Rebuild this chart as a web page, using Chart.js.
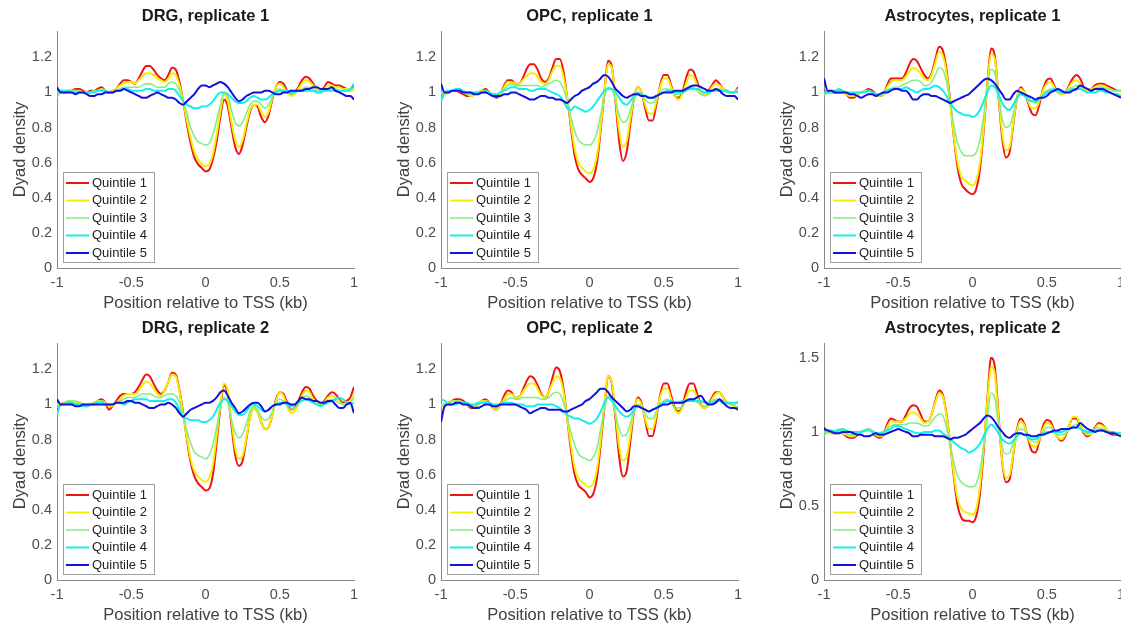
<!DOCTYPE html>
<html>
<head>
<meta charset="utf-8">
<script src="https://cdn.jsdelivr.net/npm/chart.js@4.4.1/dist/chart.umd.min.js"></script>
<style>
  html, body { margin: 0; padding: 0; background: #fff; overflow: hidden; width: 1121px; height: 628px; }
  .panel { position: absolute; width: 375px; height: 316px; }
</style>
</head>
<body>
<div class="panel" style="left:0px;top:0px"><canvas id="c0" width="375" height="316"></canvas></div>
<div class="panel" style="left:384px;top:0px"><canvas id="c1" width="375" height="316"></canvas></div>
<div class="panel" style="left:767px;top:0px"><canvas id="c2" width="375" height="316"></canvas></div>
<div class="panel" style="left:0px;top:312px"><canvas id="c3" width="375" height="316"></canvas></div>
<div class="panel" style="left:384px;top:312px"><canvas id="c4" width="375" height="316"></canvas></div>
<div class="panel" style="left:767px;top:312px"><canvas id="c5" width="375" height="316"></canvas></div>
<script>
// position relative to TSS (kb)
const POSITIONS = [-1,-0.975,-0.95,-0.925,-0.9,-0.875,-0.85,-0.825,-0.8,-0.775,
  -0.75,-0.725,-0.7,-0.675,-0.65,-0.625,-0.6,-0.575,-0.55,-0.525,
  -0.5,-0.475,-0.45,-0.425,-0.4,-0.375,-0.35,-0.325,-0.3,-0.275,
  -0.25,-0.225,-0.2,-0.175,-0.15,-0.125,-0.1,-0.075,-0.05,-0.025,
  0,0.025,0.05,0.075,0.1,0.125,0.15,0.175,0.2,0.225,
  0.25,0.275,0.3,0.325,0.35,0.375,0.4,0.425,0.45,0.475,
  0.5,0.525,0.55,0.575,0.6,0.625,0.65,0.675,0.7,0.725,
  0.75,0.775,0.8,0.825,0.85,0.875,0.9,0.925,0.95,0.975,1];

const QUINTILES = ['Quintile 1','Quintile 2','Quintile 3','Quintile 4','Quintile 5'];
const PANEL_TITLES = ['DRG, replicate 1','OPC, replicate 1','Astrocytes, replicate 1',
  'DRG, replicate 2','OPC, replicate 2','Astrocytes, replicate 2'];
const X_TICKS = [-1,-0.5,0,0.5,1];
const X_TICK_LABELS = ['-1','-0.5','0','0.5','1'];
const Y_TICKS = [0,0.2,0.4,0.6,0.8,1,1.2];
const Y_TICK_LABELS = ['0','0.2','0.4','0.6','0.8','1','1.2'];
const Y_TICKS_B = [0,0.5,1,1.5];
const Y_TICK_LABELS_B = ['0','0.5','1','1.5'];

// DRG, replicate 1
const DRG1_Q1 = [1.00,1.01,1.00,1.01,1.01,1.02,1.02,1.01,1.00,1.01, 1.01,1.02,1.03,1.01,1.00,1.01,1.02,1.05,1.07,1.07, 1.06,1.05,1.08,1.12,1.15,1.15,1.13,1.10,1.08,1.07, 1.10,1.14,1.13,1.06,0.95,0.82,0.71,0.63,0.59,0.57, 0.55,0.56,0.62,0.72,0.86,0.96,0.92,0.80,0.69,0.65, 0.70,0.80,0.89,0.93,0.92,0.86,0.83,0.87,0.96,1.03, 1.06,1.05,1.01,0.99,1.00,1.03,1.07,1.09,1.08,1.05, 1.02,1.01,1.03,1.06,1.05,1.04,1.04,1.03,1.02,1.01, 1.04];
const DRG1_Q2 = [1.00,1.00,1.00,1.01,1.01,1.01,1.01,1.00,1.00,1.00, 1.01,1.01,1.02,1.01,1.00,1.01,1.02,1.04,1.05,1.06, 1.06,1.05,1.07,1.09,1.11,1.11,1.10,1.08,1.07,1.06, 1.08,1.11,1.10,1.04,0.95,0.84,0.74,0.66,0.62,0.59, 0.58,0.59,0.65,0.76,0.89,0.99,0.95,0.83,0.73,0.69, 0.73,0.82,0.90,0.93,0.93,0.89,0.86,0.89,0.97,1.03, 1.05,1.03,1.00,0.98,0.99,1.02,1.05,1.07,1.06,1.04, 1.02,1.01,1.02,1.04,1.04,1.03,1.03,1.02,1.02,1.01, 1.02];
const DRG1_Q3 = [0.97,1.00,1.00,1.00,1.01,1.01,1.01,1.00,1.00,1.00, 1.01,1.01,1.02,1.01,1.00,1.00,1.01,1.02,1.03,1.03, 1.03,1.03,1.03,1.04,1.05,1.05,1.04,1.03,1.03,1.03, 1.05,1.06,1.05,1.01,0.95,0.88,0.80,0.75,0.72,0.71, 0.70,0.71,0.76,0.84,0.93,1.00,0.98,0.90,0.83,0.81, 0.83,0.88,0.93,0.95,0.95,0.93,0.91,0.93,0.97,1.01, 1.02,1.01,1.00,0.99,1.00,1.01,1.02,1.03,1.03,1.02, 1.01,1.01,1.01,1.02,1.02,1.02,1.01,1.01,1.01,1.01, 1.03];
const DRG1_Q4 = [1.00,1.01,1.01,1.01,1.00,1.00,1.00,1.00,1.00,1.00, 1.00,1.01,1.01,1.01,1.00,1.00,1.01,1.01,1.02,1.02, 1.01,1.01,1.01,1.01,1.02,1.02,1.01,1.01,1.01,1.01, 1.02,1.02,1.01,0.98,0.95,0.93,0.92,0.91,0.91,0.92, 0.92,0.93,0.95,0.98,1.00,1.00,0.99,0.97,0.95,0.94, 0.94,0.95,0.97,0.98,0.97,0.96,0.96,0.97,0.99,1.00, 1.01,1.01,1.01,1.00,1.00,1.01,1.01,1.01,1.01,1.01, 1.00,1.00,1.01,1.01,1.01,1.01,1.01,1.01,1.01,1.02, 1.05];
const DRG1_Q5 = [1.03,1.00,1.00,1.00,1.00,0.99,1.00,1.00,0.99,0.98, 0.98,0.99,0.99,1.00,1.00,1.00,1.01,1.01,1.02,1.01, 1.00,0.99,0.98,0.97,0.97,0.98,0.99,1.00,0.99,0.98, 0.97,0.97,0.96,0.94,0.93,0.95,0.97,0.99,1.02,1.04, 1.04,1.03,1.04,1.05,1.06,1.05,1.03,1.00,0.97,0.95, 0.96,0.98,0.99,1.00,1.00,1.00,1.01,1.01,1.00,0.99, 0.99,1.00,1.00,1.01,1.01,1.01,1.01,1.02,1.02,1.03, 1.03,1.02,1.02,1.02,1.03,1.01,1.00,0.99,0.98,0.98, 0.96];

// OPC, replicate 1
const OPC1_Q1 = [1.00,0.99,1.00,1.01,1.01,1.00,0.99,0.98,0.98,0.99, 1.00,1.01,1.02,1.00,0.98,0.97,0.99,1.04,1.07,1.07, 1.05,1.05,1.08,1.13,1.16,1.16,1.13,1.08,1.06,1.08, 1.14,1.19,1.19,1.12,0.97,0.80,0.64,0.56,0.53,0.51, 0.49,0.51,0.60,0.78,1.00,1.18,1.15,0.95,0.72,0.61, 0.66,0.82,0.97,1.03,1.00,0.91,0.84,0.84,0.93,1.04, 1.10,1.10,1.04,0.98,0.97,1.00,1.08,1.13,1.12,1.06, 1.00,0.99,1.01,1.04,1.07,1.05,1.02,1.01,1.00,1.00, 1.03];
const OPC1_Q2 = [1.00,0.99,1.00,1.01,1.01,1.01,1.00,0.99,0.98,0.99, 1.00,1.01,1.01,1.00,0.98,0.98,0.99,1.03,1.06,1.06, 1.05,1.05,1.07,1.09,1.11,1.11,1.09,1.06,1.05,1.07, 1.12,1.15,1.15,1.09,0.97,0.82,0.68,0.60,0.57,0.55, 0.54,0.56,0.64,0.80,1.00,1.16,1.14,0.97,0.78,0.69, 0.72,0.85,0.97,1.03,1.00,0.93,0.88,0.88,0.95,1.03, 1.08,1.08,1.03,0.98,0.96,0.99,1.05,1.10,1.09,1.04, 1.00,0.99,1.00,1.03,1.05,1.04,1.02,1.01,1.00,1.00, 1.02];
const OPC1_Q3 = [1.00,1.00,1.00,1.01,1.01,1.01,1.00,0.99,0.99,1.00, 1.00,1.00,1.01,1.00,0.99,0.99,1.00,1.02,1.04,1.05, 1.04,1.04,1.04,1.04,1.04,1.04,1.04,1.03,1.04,1.05, 1.06,1.07,1.06,1.02,0.95,0.86,0.78,0.73,0.71,0.70, 0.70,0.72,0.77,0.87,0.97,1.03,1.02,0.95,0.87,0.83, 0.84,0.90,0.96,0.99,0.98,0.96,0.94,0.94,0.97,1.00, 1.02,1.02,1.01,0.99,0.99,1.00,1.02,1.04,1.03,1.01, 0.99,0.98,0.99,1.01,1.02,1.02,1.01,1.00,1.00,1.00, 1.00];
const OPC1_Q4 = [0.95,1.00,1.01,1.01,1.02,1.02,1.01,1.00,1.00,1.00, 1.00,1.00,1.01,1.00,0.99,0.99,1.00,1.01,1.02,1.03, 1.03,1.02,1.02,1.02,1.01,1.01,1.02,1.02,1.02,1.01, 1.00,0.99,0.98,0.95,0.91,0.90,0.92,0.91,0.90,0.89, 0.90,0.92,0.95,0.98,1.01,1.02,1.02,1.00,0.97,0.94, 0.93,0.95,0.98,1.00,0.99,0.98,0.97,0.97,0.98,0.99, 1.00,1.01,1.01,1.00,1.00,1.00,1.01,1.02,1.02,1.02, 1.01,1.00,1.00,1.01,1.01,1.01,1.01,1.01,1.00,1.00, 1.01];
const OPC1_Q5 = [1.05,1.00,1.00,1.01,1.01,1.01,1.00,1.00,1.00,0.99, 0.99,1.00,1.00,0.99,0.98,0.98,0.98,0.99,0.99,1.00, 1.00,0.99,0.98,0.97,0.96,0.96,0.97,0.98,0.98,0.97, 0.97,0.96,0.96,0.95,0.94,0.96,0.98,0.99,1.01,1.02, 1.03,1.05,1.06,1.08,1.10,1.09,1.06,1.02,1.00,0.98, 0.97,0.98,0.99,0.99,0.98,0.98,0.97,0.97,0.98,0.99, 1.00,1.00,1.00,1.01,1.01,1.01,1.02,1.03,1.04,1.04, 1.03,1.02,1.01,1.01,1.02,1.01,0.99,0.98,0.98,0.98, 0.96];

// Astrocytes, replicate 1
const AST1_Q1 = [1.01,1.00,1.00,1.00,1.00,1.00,0.99,0.97,0.97,0.99, 1.00,1.01,1.02,1.01,0.99,0.98,0.99,1.04,1.08,1.08, 1.08,1.08,1.11,1.16,1.19,1.18,1.14,1.10,1.08,1.11, 1.19,1.26,1.24,1.13,0.95,0.74,0.57,0.48,0.45,0.43, 0.42,0.45,0.56,0.78,1.05,1.25,1.21,0.98,0.74,0.63, 0.66,0.82,0.97,1.03,1.00,0.94,0.88,0.87,0.93,1.02, 1.07,1.08,1.04,1.00,0.99,1.00,1.04,1.08,1.10,1.08, 1.03,1.01,1.02,1.04,1.05,1.05,1.04,1.03,1.02,1.01, 1.01];
const AST1_Q2 = [1.00,1.00,1.00,1.01,1.01,1.00,0.99,0.98,0.98,0.99, 1.00,1.01,1.01,1.00,0.99,0.98,0.99,1.03,1.06,1.07, 1.07,1.07,1.09,1.12,1.14,1.13,1.11,1.08,1.07,1.10, 1.17,1.23,1.21,1.11,0.94,0.75,0.60,0.52,0.50,0.48, 0.47,0.50,0.60,0.80,1.05,1.22,1.19,0.99,0.77,0.67, 0.69,0.83,0.97,1.02,1.00,0.95,0.91,0.91,0.95,1.01, 1.05,1.06,1.03,1.00,0.99,1.00,1.03,1.06,1.07,1.05, 1.02,1.01,1.02,1.03,1.04,1.04,1.03,1.02,1.01,1.01, 1.00];
const AST1_Q3 = [0.98,1.00,1.00,1.01,1.01,1.01,1.00,0.99,0.99,1.00, 1.00,1.01,1.01,1.00,0.99,0.98,0.99,1.01,1.02,1.03, 1.03,1.04,1.05,1.06,1.07,1.07,1.06,1.04,1.04,1.06, 1.10,1.14,1.13,1.06,0.94,0.81,0.71,0.66,0.64,0.64, 0.64,0.66,0.73,0.87,1.03,1.13,1.11,0.98,0.85,0.80, 0.81,0.88,0.96,1.00,0.99,0.97,0.95,0.94,0.96,0.99, 1.01,1.02,1.01,1.00,1.00,1.00,1.02,1.03,1.04,1.03, 1.01,1.00,1.01,1.02,1.03,1.03,1.02,1.02,1.01,1.01, 1.01];
const AST1_Q4 = [1.00,1.00,1.01,1.01,1.02,1.01,1.00,1.00,1.00,1.00, 1.00,1.00,1.01,1.00,0.99,0.99,1.00,1.01,1.02,1.02, 1.02,1.02,1.03,1.02,1.01,1.00,1.01,1.02,1.02,1.03, 1.04,1.03,1.01,0.98,0.94,0.91,0.89,0.88,0.87,0.87, 0.86,0.87,0.90,0.95,1.00,1.04,1.03,0.99,0.94,0.91, 0.90,0.93,0.97,0.99,0.98,0.96,0.95,0.95,0.96,0.98, 1.00,1.01,1.02,1.01,1.00,1.00,1.01,1.02,1.02,1.02, 1.01,1.00,1.00,1.00,1.01,1.01,1.00,1.00,0.99,0.99, 0.98];
const AST1_Q5 = [1.08,1.01,1.01,1.00,1.00,1.00,1.00,0.99,0.99,0.98, 0.97,0.98,0.99,0.99,0.98,0.99,1.00,1.00,1.01,1.02, 1.02,1.01,1.01,0.99,0.96,0.96,0.98,0.99,0.99,0.98, 0.98,0.97,0.96,0.95,0.94,0.95,0.96,0.97,0.98,0.99, 1.01,1.03,1.05,1.07,1.08,1.07,1.05,1.02,0.99,0.96, 0.96,0.99,1.01,1.00,0.99,0.98,0.97,0.96,0.97,0.97, 0.98,1.00,1.01,1.02,1.01,1.00,1.00,1.01,1.02,1.04, 1.03,1.02,1.01,1.02,1.02,1.02,1.01,1.00,0.99,0.98, 0.97];

// DRG, replicate 2
const DRG2_Q1 = [0.97,1.00,1.01,1.01,1.00,1.01,1.01,1.00,0.99,1.00, 1.01,1.02,1.03,1.01,0.97,0.99,1.02,1.05,1.06,1.06, 1.06,1.07,1.10,1.14,1.17,1.16,1.12,1.08,1.06,1.08, 1.13,1.18,1.17,1.08,0.95,0.80,0.67,0.59,0.55,0.53, 0.51,0.52,0.60,0.78,0.98,1.11,1.06,0.88,0.71,0.65, 0.68,0.80,0.93,0.98,0.96,0.90,0.86,0.87,0.94,1.03, 1.07,1.06,1.01,0.97,0.98,1.02,1.07,1.10,1.09,1.05, 1.02,1.00,1.02,1.05,1.07,1.06,1.03,1.01,1.02,1.04, 1.10];
const DRG2_Q2 = [1.00,1.00,1.01,1.02,1.02,1.01,1.01,1.00,1.00,1.00, 1.01,1.02,1.02,1.01,0.99,0.99,1.01,1.03,1.05,1.06, 1.06,1.06,1.08,1.11,1.13,1.12,1.09,1.06,1.05,1.08, 1.13,1.17,1.16,1.07,0.94,0.81,0.69,0.62,0.59,0.57, 0.56,0.58,0.66,0.82,1.00,1.12,1.08,0.91,0.75,0.69, 0.71,0.81,0.93,0.98,0.96,0.90,0.86,0.87,0.94,1.02, 1.07,1.05,0.99,0.95,0.96,1.00,1.05,1.08,1.07,1.03, 1.01,1.00,1.01,1.04,1.05,1.04,1.02,1.00,1.01,1.02, 1.06];
const DRG2_Q3 = [0.98,1.00,1.01,1.02,1.02,1.02,1.01,1.00,1.00,1.00, 1.01,1.02,1.02,1.01,1.00,1.00,1.01,1.02,1.03,1.04, 1.04,1.04,1.05,1.06,1.06,1.06,1.05,1.04,1.04,1.05, 1.06,1.06,1.05,1.01,0.93,0.85,0.78,0.73,0.71,0.70, 0.69,0.71,0.77,0.87,0.98,1.04,1.01,0.91,0.84,0.81, 0.83,0.89,0.96,0.99,0.97,0.93,0.91,0.92,0.96,1.01, 1.03,1.02,0.99,0.97,0.98,1.00,1.03,1.05,1.04,1.02, 1.00,1.00,1.01,1.02,1.03,1.02,1.01,1.00,1.00,1.01, 1.04];
const DRG2_Q4 = [0.94,1.00,1.00,1.01,1.01,1.00,1.00,0.99,0.99,1.00, 1.00,1.01,1.01,1.00,1.00,1.00,1.01,1.01,1.00,1.01, 1.02,1.03,1.03,1.03,1.03,1.02,1.02,1.02,1.02,1.02, 1.03,1.03,1.01,0.97,0.93,0.92,0.91,0.91,0.91,0.90, 0.90,0.91,0.93,0.97,1.01,1.03,1.02,0.99,0.96,0.94, 0.94,0.96,0.99,1.00,0.99,0.97,0.96,0.97,0.99,1.00, 1.01,1.01,1.00,0.99,1.00,1.01,1.02,1.03,1.02,1.01, 1.00,0.99,1.00,1.01,1.02,1.03,1.04,1.03,1.01,1.00, 1.01];
const DRG2_Q5 = [1.03,1.00,1.00,1.00,1.00,0.99,0.99,1.00,1.00,1.00, 1.00,1.00,1.00,1.00,1.00,1.00,1.01,1.01,1.01,1.02, 1.02,1.01,1.01,1.00,0.99,0.98,0.98,0.99,1.00,1.00, 1.01,1.00,0.98,0.95,0.93,0.95,0.97,0.98,0.99,1.00, 1.01,1.01,1.02,1.04,1.07,1.08,1.05,1.01,0.98,0.95, 0.96,0.98,1.00,1.01,1.01,0.99,0.96,0.97,0.99,1.00, 1.00,1.01,1.01,1.00,1.00,1.02,1.04,1.03,1.03,1.02, 1.02,1.01,1.01,1.02,1.02,1.00,0.98,0.98,1.00,1.01, 0.95];

// OPC, replicate 2
const OPC2_Q1 = [0.99,1.00,1.01,1.02,1.03,1.03,1.02,1.00,0.98,0.98, 1.00,1.02,1.03,1.01,0.98,0.97,1.00,1.05,1.08,1.07, 1.04,1.04,1.08,1.13,1.16,1.15,1.11,1.06,1.04,1.07, 1.15,1.21,1.19,1.09,0.92,0.74,0.60,0.54,0.52,0.50, 0.47,0.49,0.58,0.77,0.98,1.16,1.12,0.92,0.70,0.59, 0.62,0.79,0.96,1.04,1.01,0.91,0.82,0.82,0.92,1.05, 1.12,1.12,1.05,0.98,0.96,0.99,1.07,1.12,1.12,1.06, 1.00,0.98,1.00,1.04,1.07,1.07,1.04,1.01,1.00,0.99, 0.98];
const OPC2_Q2 = [0.99,1.00,1.01,1.02,1.02,1.02,1.01,1.00,0.99,0.99, 1.00,1.02,1.02,1.01,0.98,0.97,1.00,1.03,1.06,1.06, 1.04,1.04,1.07,1.10,1.12,1.12,1.09,1.05,1.04,1.07, 1.12,1.16,1.15,1.07,0.92,0.77,0.64,0.58,0.56,0.54, 0.53,0.55,0.63,0.80,1.00,1.16,1.13,0.95,0.76,0.68, 0.70,0.83,0.97,1.03,1.00,0.92,0.86,0.86,0.94,1.04, 1.09,1.09,1.03,0.97,0.95,0.98,1.04,1.08,1.08,1.04, 0.99,0.98,0.99,1.03,1.06,1.07,1.04,1.01,1.00,0.99, 0.99];
const OPC2_Q3 = [1.00,1.00,1.01,1.02,1.02,1.02,1.01,1.00,0.99,0.99, 1.00,1.01,1.02,1.01,0.99,0.98,1.00,1.02,1.03,1.04, 1.03,1.03,1.04,1.04,1.04,1.04,1.04,1.03,1.03,1.04, 1.06,1.07,1.06,1.01,0.93,0.84,0.77,0.72,0.70,0.69, 0.68,0.70,0.75,0.86,0.97,1.05,1.03,0.94,0.86,0.82, 0.83,0.89,0.96,1.00,0.99,0.95,0.92,0.92,0.96,1.00, 1.02,1.03,1.01,0.98,0.98,0.99,1.02,1.03,1.03,1.01, 1.00,0.99,1.00,1.02,1.03,1.03,1.02,1.01,1.00,1.00, 1.02];
const OPC2_Q4 = [1.03,1.02,1.00,1.00,1.00,1.01,1.01,1.01,1.00,1.00, 1.01,1.01,1.01,1.01,1.00,1.00,1.00,1.01,1.01,1.01, 1.00,1.00,1.00,0.99,0.99,0.99,1.00,1.00,1.00,1.00, 1.00,0.99,0.98,0.96,0.94,0.93,0.92,0.92,0.91,0.90, 0.89,0.90,0.92,0.96,1.01,1.04,1.02,0.99,0.96,0.94, 0.93,0.94,0.97,0.99,0.98,0.97,0.96,0.97,0.98,1.00, 1.01,1.02,1.02,1.01,1.01,1.02,1.02,1.02,1.02,1.02, 1.02,1.01,1.01,1.01,1.02,1.02,1.01,1.01,1.01,1.01, 1.01];
const OPC2_Q5 = [0.90,0.99,1.00,1.00,1.01,1.01,1.00,1.00,0.99,0.98, 0.98,0.99,1.00,1.00,0.99,0.99,1.00,1.00,1.00,1.00, 1.00,0.99,0.98,0.97,0.95,0.96,0.97,0.98,0.98,0.97, 0.97,0.97,0.97,0.96,0.96,0.97,0.98,0.99,1.00,1.02, 1.03,1.05,1.07,1.09,1.09,1.07,1.04,1.02,1.00,0.98, 0.96,0.97,0.99,0.99,0.98,0.97,0.96,0.97,0.98,0.99, 1.00,1.00,1.01,1.01,1.01,1.01,1.02,1.03,1.03,1.04, 1.05,1.02,1.00,1.00,1.01,1.03,1.01,0.99,0.98,0.98, 0.97];

// Astrocytes, replicate 2
const AST2_Q1 = [1.03,1.00,0.99,0.99,1.00,0.99,0.97,0.96,0.96,0.98, 1.00,1.01,1.02,1.00,0.97,0.96,0.98,1.05,1.09,1.08, 1.07,1.07,1.11,1.16,1.18,1.17,1.12,1.07,1.07,1.12, 1.21,1.28,1.25,1.12,0.92,0.69,0.50,0.42,0.40,0.40, 0.39,0.43,0.58,0.87,1.22,1.50,1.44,1.12,0.80,0.66, 0.68,0.85,1.02,1.09,1.05,0.95,0.87,0.86,0.94,1.04, 1.08,1.07,1.01,0.96,0.94,0.97,1.04,1.09,1.09,1.04, 0.99,0.97,0.99,1.03,1.06,1.05,1.02,0.99,0.98,0.98, 0.98];
const AST2_Q2 = [1.00,0.99,0.99,1.00,1.00,0.99,0.98,0.97,0.97,0.99, 1.00,1.01,1.02,1.00,0.98,0.97,0.98,1.03,1.07,1.07, 1.07,1.07,1.09,1.12,1.13,1.12,1.09,1.06,1.07,1.12, 1.20,1.26,1.24,1.11,0.92,0.71,0.55,0.48,0.46,0.45, 0.44,0.48,0.63,0.90,1.20,1.44,1.39,1.10,0.81,0.69, 0.71,0.86,1.01,1.07,1.04,0.96,0.91,0.90,0.95,1.02, 1.06,1.05,1.00,0.96,0.95,0.98,1.04,1.10,1.10,1.05, 1.00,0.98,0.99,1.02,1.05,1.04,1.02,1.00,0.99,0.98, 0.98];
const AST2_Q3 = [0.97,1.00,1.00,1.01,1.02,1.01,0.99,0.98,0.98,0.99, 1.00,1.01,1.02,1.01,0.99,0.98,0.99,1.02,1.04,1.05, 1.05,1.05,1.05,1.06,1.06,1.06,1.05,1.04,1.04,1.07, 1.10,1.12,1.11,1.03,0.91,0.79,0.70,0.66,0.64,0.63, 0.63,0.65,0.74,0.90,1.10,1.26,1.23,1.05,0.90,0.85, 0.86,0.93,1.00,1.02,1.01,0.97,0.94,0.93,0.96,1.00, 1.03,1.03,1.01,0.98,0.98,0.99,1.02,1.04,1.05,1.03, 1.00,0.99,1.00,1.02,1.03,1.02,1.01,1.00,1.00,0.99, 0.99];
const AST2_Q4 = [1.00,1.01,1.01,1.00,1.01,1.02,1.01,1.00,1.00,1.00, 1.00,1.01,1.01,1.00,0.99,0.99,1.00,1.01,1.02,1.04, 1.04,1.03,1.02,1.01,1.00,0.99,0.99,1.00,1.00,1.00, 1.01,1.01,0.99,0.97,0.95,0.93,0.91,0.89,0.88,0.86, 0.87,0.89,0.92,0.97,1.02,1.05,1.03,0.99,0.95,0.93, 0.92,0.94,0.97,0.99,0.98,0.96,0.95,0.95,0.97,0.99, 1.00,1.00,1.00,1.00,1.00,1.01,1.02,1.03,1.03,1.02, 1.01,1.00,1.00,1.01,1.01,1.01,1.00,1.00,1.00,0.99, 0.99];
const AST2_Q5 = [1.02,1.01,1.00,0.99,0.99,1.00,1.00,1.00,0.99,0.98, 0.98,0.97,0.97,0.98,0.99,0.98,0.98,0.99,1.00,1.01, 1.02,1.01,1.00,0.99,0.97,0.97,0.98,0.98,0.98,0.98, 0.97,0.97,0.97,0.96,0.95,0.96,0.96,0.97,0.98,1.00, 1.02,1.04,1.06,1.09,1.11,1.10,1.07,1.03,1.00,0.97, 0.96,0.98,0.99,0.99,0.98,0.98,0.97,0.97,0.98,0.98, 0.99,1.00,1.01,1.01,1.02,1.02,1.02,1.03,1.03,1.06, 1.04,1.02,1.01,1.00,1.01,1.01,1.00,0.99,0.99,0.98, 0.97];

const COLORS = ['#ee1414', '#f8ee00', '#80ee80', '#14eeee', '#1212dc'];
const WIDTHS = [2, 2, 1.5, 2, 2];
const FONT = '"Liberation Sans", Arial, Helvetica, sans-serif';

// MATLAB style legend box in the lower left corner of the plot
const boxLegend = {
  id: 'boxLegend',
  afterDatasetsDraw(chart) {
    const { ctx, chartArea } = chart;
    const w = 91, h = 90;
    const x0 = Math.round(chartArea.left + 6);
    const y0 = Math.round(chartArea.bottom - 6 - h);
    ctx.save();
    ctx.fillStyle = '#ffffff';
    ctx.fillRect(x0, y0, w, h);
    ctx.strokeStyle = '#a0a0a0';
    ctx.lineWidth = 1;
    ctx.strokeRect(x0 + 0.5, y0 + 0.5, w, h);
    ctx.font = '13px ' + FONT;
    ctx.textBaseline = 'middle';
    chart.data.datasets.forEach((ds, i) => {
      const y = y0 + 11 + i * 17.5;
      ctx.strokeStyle = ds.borderColor;
      ctx.lineWidth = ds.borderWidth;
      ctx.beginPath();
      ctx.moveTo(x0 + 3, y);
      ctx.lineTo(x0 + 26, y);
      ctx.stroke();
      ctx.fillStyle = '#222222';
      ctx.fillText(ds.label, x0 + 29, y);
    });
    ctx.restore();
  }
};

function makePanel(id, title, series, yMax, yTicks, yLabels) {
  new Chart(document.getElementById(id), {
    type: 'line',
    data: {
      labels: POSITIONS,
      datasets: series.map((vals, i) => ({
        label: QUINTILES[i],
        data: vals,
        borderColor: COLORS[i],
        borderWidth: WIDTHS[i],
        pointRadius: 0,
        fill: false,
        cubicInterpolationMode: 'monotone',
        order: 5 - i
      }))
    },
    options: {
      responsive: false,
      animation: false,
      layout: { autoPadding: false, padding: { left: 0, right: 21, top: 0, bottom: 0 } },
      plugins: {
        legend: { display: false },
        tooltip: { enabled: false },
        title: {
          display: true,
          text: title,
          fullSize: false,
          color: '#1a1a1a',
          font: { family: FONT, size: 16.5, weight: 'bold', lineHeight: 1.2 },
          padding: { top: 7, bottom: 4.2 }
        }
      },
      scales: {
        x: {
          type: 'linear',
          min: -1,
          max: 1,
          afterBuildTicks: (axis) => { axis.ticks = X_TICKS.map(v => ({ value: v })); },
          afterFit: (axis) => { axis.height = 48; },
          grid: { display: false, drawTicks: false },
          border: { display: true, color: '#8a8a8a', width: 1 },
          ticks: {
            autoSkip: false, maxRotation: 0, padding: 6, color: '#4d4d4d',
            font: { family: FONT, size: 14.5 },
            callback: (v, i) => X_TICK_LABELS[i]
          },
          title: {
            display: true, text: 'Position relative to TSS (kb)', color: '#404040',
            font: { family: FONT, size: 16.5, lineHeight: 1.2 },
            padding: { top: 0, bottom: 3 }
          }
        },
        y: {
          min: 0,
          max: yMax,
          afterBuildTicks: (axis) => { axis.ticks = yTicks.map(v => ({ value: v })); },
          afterFit: (axis) => { axis.width = 57; },
          grid: { display: false, drawTicks: false },
          border: { display: true, color: '#8a8a8a', width: 1 },
          ticks: {
            autoSkip: false, padding: 5, color: '#4d4d4d',
            font: { family: FONT, size: 14.5 },
            callback: (v, i) => yLabels[i]
          },
          title: {
            display: true, text: 'Dyad density', color: '#404040',
            font: { family: FONT, size: 16.5, lineHeight: 1.2 },
            padding: { top: 11, bottom: 0 }
          }
        }
      }
    },
    plugins: [boxLegend]
  });
}

makePanel('c0', PANEL_TITLES[0], [DRG1_Q1, DRG1_Q2, DRG1_Q3, DRG1_Q4, DRG1_Q5], 1.35, Y_TICKS, Y_TICK_LABELS);
makePanel('c1', PANEL_TITLES[1], [OPC1_Q1, OPC1_Q2, OPC1_Q3, OPC1_Q4, OPC1_Q5], 1.35, Y_TICKS, Y_TICK_LABELS);
makePanel('c2', PANEL_TITLES[2], [AST1_Q1, AST1_Q2, AST1_Q3, AST1_Q4, AST1_Q5], 1.35, Y_TICKS, Y_TICK_LABELS);
makePanel('c3', PANEL_TITLES[3], [DRG2_Q1, DRG2_Q2, DRG2_Q3, DRG2_Q4, DRG2_Q5], 1.35, Y_TICKS, Y_TICK_LABELS);
makePanel('c4', PANEL_TITLES[4], [OPC2_Q1, OPC2_Q2, OPC2_Q3, OPC2_Q4, OPC2_Q5], 1.35, Y_TICKS, Y_TICK_LABELS);
makePanel('c5', PANEL_TITLES[5], [AST2_Q1, AST2_Q2, AST2_Q3, AST2_Q4, AST2_Q5], 1.6, Y_TICKS_B, Y_TICK_LABELS_B);
</script>
</body>
</html>
